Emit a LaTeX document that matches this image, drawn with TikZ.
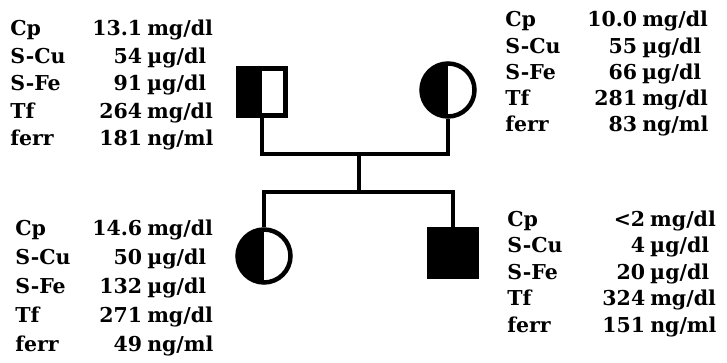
\documentclass[tikz,border=0pt]{standalone}
\usepackage{fontspec}
\usepackage{array}
\setmainfont{DejaVu Serif}
\usetikzlibrary{positioning}

\newcolumntype{N}[1]{>{\raggedleft\arraybackslash}p{#1}}

\begin{document}
\begin{tikzpicture}[
  x=1pt, y=-1pt,
  line width=4.5pt,
  male/.style={rectangle, draw=black, minimum size=47pt, inner sep=0pt},
  female/.style={circle, draw=black, minimum size=53pt, inner sep=0pt},
  carrier/.style={path picture={\fill[black] (path picture bounding box.south west)
                  rectangle (path picture bounding box.north);}},
  affected/.style={fill=black},
  labs/.style={font=\fontsize{20.5}{#1}\selectfont\bfseries, inner sep=0pt, anchor=base west},
  labs/.default=26.5
]
\useasboundingbox (0,0) rectangle (727,363);

% pedigree
\node[male, carrier]   (father)   at (262,92)  {};
\node[female, carrier] (mother)   at (448,90)  {};
\node[female, carrier] (daughter) at (264,256) {};
\node[male, affected]  (son)      at (453,253) {};

\coordinate (mating) at (359,154);
\coordinate (sibship) at (359,192);

\draw (father.south) |- (mating) -| (mother.south);
\draw (mating) -- (sibship);
\draw (daughter.north) |- (sibship) -| (son.north);

% lab values
\node[labs=27.5] (fatherlab) at (8,36) {\begin{tabular}[t]{@{}p{72pt}@{}N{60pt}@{\hspace{5pt}}l@{}}
Cp & 13.1 & mg/dl\\
S-Cu & 54 & \textmu g/dl\\
S-Fe & 91 & \textmu g/dl\\
Tf & 264 & mg/dl\\
ferr & 181 & ng/ml
\end{tabular}};

\node[labs=26.25] (motherlab) at (503,27) {\begin{tabular}[t]{@{}p{72pt}@{}N{60pt}@{\hspace{5pt}}l@{}}
Cp & 10.0 & mg/dl\\
S-Cu & 55 & \textmu g/dl\\
S-Fe & 66 & \textmu g/dl\\
Tf & 281 & mg/dl\\
ferr & 83 & ng/ml
\end{tabular}};

\node[labs=29] (daughterlab) at (13,235) {\begin{tabular}[t]{@{}p{67pt}@{}N{60pt}@{\hspace{5pt}}l@{}}
Cp & 14.6 & mg/dl\\
S-Cu & 50 & \textmu g/dl\\
S-Fe & 132 & \textmu g/dl\\
Tf & 271 & mg/dl\\
ferr & 49 & ng/ml
\end{tabular}};

\node[labs=26.5] (sonlab) at (505,226) {\begin{tabular}[t]{@{}p{78pt}@{}N{60pt}@{\hspace{5pt}}l@{}}
Cp & <2 & mg/dl\\
S-Cu & 4 & \textmu g/dl\\
S-Fe & 20 & \textmu g/dl\\
Tf & 324 & mg/dl\\
ferr & 151 & ng/ml
\end{tabular}};

\end{tikzpicture}
\end{document}
